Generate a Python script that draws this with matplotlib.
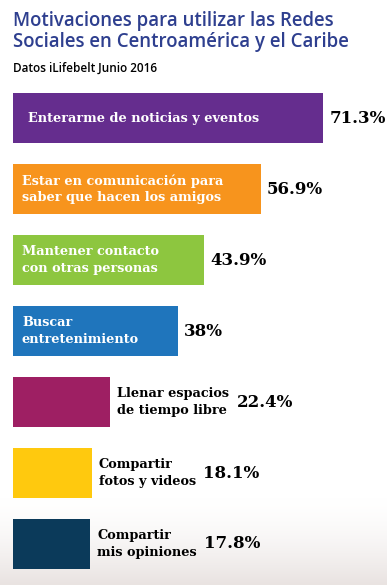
import matplotlib
matplotlib.use("Agg")
import matplotlib.pyplot as plt
from matplotlib.colors import LinearSegmentedColormap
import numpy as np

# ─ DADES ─
labels = [
    "Enterarme de noticias y eventos",
    "Estar en comunicación para\nsaber que hacen los amigos",
    "Mantener contacto\ncon otras personas",
    "Buscar\nentretenimiento",
    "Llenar espacios\nde tiempo libre",
    "Compartir\nfotos y videos",
    "Compartir\nmis opiniones",
]
values = [71.3, 56.9, 43.9, 38, 22.4, 18.1, 17.8]
value_labels = ["71.3%", "56.9%", "43.9%", "38%", "22.4%", "18.1%", "17.8%"]
colors = ["#652D8E", "#F7941D", "#8DC63F", "#1F75BC", "#9E1F63", "#FFC90E", "#0B3A5A"]
inside = [True, True, True, True, False, False, False]

W, H = 387, 585
fig = plt.figure(figsize=(W / 100, H / 100), dpi=100)
fig.patch.set_facecolor("white")

# fons: foto difuminada al peu (aprox. amb un degradat suau)
bg = fig.add_axes([0, 0, 1, 90 / H], zorder=-1)
grad = np.linspace(0, 1, 90).reshape(-1, 1) ** 1.6
bg.imshow(grad, cmap=LinearSegmentedColormap.from_list("bg", ["white", "#e9e3e1"]),
          aspect="auto", extent=[0, 1, 0, 1], origin="upper")
bg.axis("off")

# eixos en píxels: barres comencen a x=13, 4.35 px per %
x0 = 13
px_per = 4.35
top, bot = 82.5, 579.5
ax = fig.add_axes([x0 / W, 1 - bot / H, 1 - x0 / W, (bot - top) / H])
ax.set_xlim(0, (W - x0) / px_per)
ax.set_ylim(len(values) - 0.5, -0.5)
ax.axis("off")

y = list(range(len(values)))
ax.barh(y, values, height=0.70, color=colors, align="center")

fig.canvas.draw()
r = fig.canvas.get_renderer()

lab_font = dict(family="DejaVu Serif", weight="bold", fontsize=9.3)
val_font = dict(family="DejaVu Serif", weight="bold", fontsize=12)

for i, (lab, v, vl) in enumerate(zip(labels, values, value_labels)):
    if inside[i]:
        off = 15 if i == 0 else 9
        ax.annotate(lab, (0, i), xytext=(off, 0), textcoords="offset pixels",
                    ha="left", va="center", color="white", linespacing=1.35, **lab_font)
        ax.annotate(vl, (v, i), xytext=(6, 0), textcoords="offset pixels",
                    ha="left", va="center", color="black", **val_font)
    else:
        t = ax.annotate(lab, (v, i), xytext=(7, 0), textcoords="offset pixels",
                        ha="left", va="center", color="black", linespacing=1.35, **lab_font)
        bb = t.get_window_extent(r)
        ax.annotate(vl, (v, i), xytext=(bb.x1 - ax.transData.transform((v, i))[0] + 7, 0),
                    textcoords="offset pixels", ha="left", va="center",
                    color="black", **val_font)

# ─ TÍTOL ─
fig.text(13 / W, 1 - 11 / H, "Motivaciones para utilizar las Redes\nSociales en Centroamérica y el Caribe",
         ha="left", va="top", color="#2E3F8F", fontsize=13.4, family="Open Sans",
         weight="semibold", linespacing=1.05)
fig.text(13 / W, 1 - 62 / H, "Datos iLifebelt Junio 2016", ha="left", va="top",
         color="black", fontsize=8.5, family="Open Sans", weight="semibold")

fig.savefig("out.png", dpi=100)
